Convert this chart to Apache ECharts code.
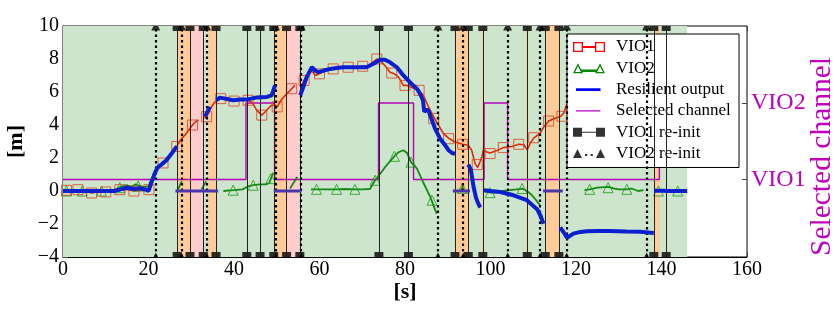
<!DOCTYPE html>
<html><head><meta charset="utf-8">
<script src="https://cdn.jsdelivr.net/npm/echarts@6/dist/echarts.min.js"></script>
<style>html,body{margin:0;padding:0;background:#fff}#c{width:837px;height:310px}</style>
</head><body><div id="c"></div>
<script>
// ---- axes ----
const xMin = 0, xMax = 160, xStep = 20;
const yMin = -4, yMax = 10, yStep = 2;
const channelNames = ['VIO1', 'VIO2'];
const channelLevels = [0.7, 5.33];

// ---- curves [t (s), value (m)]; null = gap ----
const vio1 = [[0,0.05],[1,0.04],[2,0],[3.5,0.08],[5,0],[6.7,-0.12],[8.5,-0.05],[10,-0.06],[11.5,0],[13.3,0.08],[15,0.1],[16.6,0],[18,0.05],[20.1,0.08],[21,0.7],[22,1.3],[23.4,1.7],[25,2.2],[26.6,2.7],[27.5,3.1],[28.9,3.5],[30.3,4.0],[31,4.2],[31.7,4.3],
 [32.3,null],[33.1,4.4],[33.6,4.5],[34.5,5.0],[35.5,5.4],[36.9,5.6],[38.5,5.5],[40,5.45],[41.5,5.5],[43.3,5.5],[44.3,5.35],[45.3,4.9],[46.5,4.6],[47.3,4.8],[48,5.0],[48.8,5.2],[49.6,5.2],[50.1,5.1],[51,5.5],[52,5.8],[53.5,6.2],[54.3,6.4],
 [55,null],[55.6,6.3],[56.4,6.7],[57,6.9],[58.2,7.3],[59,7.0],[60,7.1],[61.5,7.3],[63.2,7.4],[65,7.45],[66.7,7.5],[68.5,7.5],[70.1,7.56],[71.5,7.6],[73.4,8.0],[74.2,7.9],[75.3,7.6],[76.5,7.2],[77.5,7.1],[78.5,6.9],[79.6,6.4],[80.5,6.4],[81.6,6.27],[83.2,6.1],[84.3,5.8],[85.5,5.1],[86.7,4.5],[87.8,4.0],[89,3.48],[90.2,3.2],[91.7,2.97],[93.5,2.83],[94.8,2.77],[95.6,2.47],[96.4,1.66],[97,1.42],[98,2.06],[98.3,2.47],[99.2,2.36],[99.9,2.3],[101.5,2.45],[103,2.63],[105,2.7],[106.6,2.83],[107.8,2.8],[108.6,2.5],[109.3,2.9],[110.1,3.2],[111.6,3.5],[112.5,3.9],[113.6,4.24],[115,4.4],[116.3,4.5],[117.1,4.7],[117.9,5.3]];
const vio1Markers = [[0.8,0.04],[3.5,0.08],[6.7,-0.12],[10.0,-0.06],[13.3,0.08],[16.6,0.0],[20.1,0.08],[23.4,1.7],[26.6,2.7],[30.3,4.0],[33.6,4.5],[36.9,5.6],[40.0,5.45],[43.3,5.5],[46.5,4.6],[50.1,5.1],[53.5,6.2],[56.4,6.7],[60.0,7.1],[63.2,7.4],[66.7,7.5],[70.1,7.56],[73.4,8.0],[76.9,7.15],[80.0,6.4],[83.3,6.1],[86.7,4.4],[90.2,3.17],[93.5,2.83],[96.9,1.6],[99.9,2.27],[103.0,2.63],[106.6,2.83],[110.1,3.23],[113.6,4.24],[116.7,4.53]];

const vio2 = [[0,0],[2,0],[4,0.02],[6,0],[9,0],[11,0.05],[12.5,0.1],[13.5,0.25],[15,0.35],[16,0.25],[17,0.4],[18,0.3],[19,0.25],[20,0.3],[20.7,0.7],[21.7,1.3],
 [24,null],[26.9,0.1],[27.8,0.6],[30,null],[32.4,0.1],[33.5,0.6],[35,null],
 [37.5,0],[39.8,0.05],[42,0.1],[43.5,0.3],[44.5,0.35],[46,0.4],[47.5,0.4],[48.3,0.5],[48.9,0.95],[49.2,1.1],
 [51,null],[53.1,0.15],[54.8,0.85],[56,null],
 [58,0.1],[59.3,0.1],[62,0.1],[64,0.1],[66,0.12],[68.3,0.1],[70,0.1],[71.8,0.12],[73,0.65],[74.2,1.05],[75.5,1.5],[77.5,2.1],[78.5,2.35],[79.6,2.47],[80.5,2.3],[81.4,1.75],[82.8,1.35],[84.3,0.5],[85.9,-0.36],[87.4,-1.37],
 [90,null],[92.9,-0.05],[93.6,0.3],[96,null],
 [98.4,0],[99.9,-0.1],[101,-0.1],[103,0],[104.5,0.05],[106,0.1],[107.4,0.15],[108.5,0],[109.5,-0.2],[110.5,-0.5],[111.6,-0.87],
 [115,null],[122,0.05],[123.2,0.1],[125,0.2],[127.5,0.25],[129,0.15],[130,0.1],[131.9,0.1],[133,0.15],[134.5,0],[135.8,0.05],
 [137,null],[138.5,0],[139.3,0],[141,0.05],[143.8,0],[145.5,0]];
const vio2Markers = [[0.8,0],[4.5,0],[9.0,0],[13.3,0.2],[17.6,0.3],[39.8,0.05],[44.5,0.35],[48.6,0.75],[59.3,0.1],[64.0,0.1],[68.3,0.1],[73.0,0.65],[77.5,2.1],[81.4,1.75],[86.3,-0.56],[93.4,0.15],[99.9,-0.1],[107.4,0.15],[123.2,0.1],[127.5,0.2],[131.9,0.1],[139.3,0],[143.8,0]];

const resilient = [[0,0],[12,0],[13.5,0.1],[15,0.2],[16.5,0.12],[18,0.17],[19.5,0.08],[20,0],[20.8,0.6],[21.5,1.1],[22.2,1.45],[23,1.6],[24.2,1.86],[25.5,2.3],[26.6,2.7],
 [30,null],[33.2,4.5],[33.6,4.6],[34.4,5.1],[35,null],
 [35.9,5.5],[36.7,5.66],[38,5.6],[39.8,5.5],[41.5,5.55],[42.9,5.55],[44,5.6],[45.3,5.67],[47.7,5.7],[48.8,5.8],[49.6,6.4],
 [52,null],[55.5,5.8],[56.2,6.3],[57,6.9],[57.8,7.3],[58.2,7.5],[59,7.3],[59.7,7.2],[61,7.3],[62.5,7.4],[64,7.45],[65.6,7.5],[68,7.5],[71,7.5],[72.5,7.7],[74.2,7.96],[75.3,7.96],[76.5,7.8],[78.1,7.5],[79.3,7.1],[80.4,6.8],[81.5,6.5],[82.8,6.2],[83.5,5.9],[84.2,5.5],[84.5,4.8],[85.1,4.95],[85.6,4.8],[86.3,4.3],[87,3.8],[88.2,3.17],[89.4,2.77],[90.2,2.47],[91,2.3],[91.7,2.25],
 [93,null],[94.8,1.6],[95.4,1.3],[96,0.3],[96.6,-0.4],[97.2,-0.8],[97.6,-1.0],
 [98,null],[98.4,0.05],[100,0],[102.3,-0.06],[105.4,-0.26],[108.5,-0.56],[110.9,-1.1],[111.7,-1.5],[112.4,-1.98],
 [114,null],[116.3,-2.2],[117.1,-2.5],[117.9,-2.83],[118.7,-2.7],[119.4,-2.58],[121,-2.48],[122.6,-2.44],[125,-2.42],[128,-2.42],[131.8,-2.45],[135,-2.47],[138.2,-2.55],
 [138.25,null],[138.3,0.02],[140,0.02],[142,0],[144,0],[146,0]];
const resilientIdle = [[26.3,0],[36.3,0],[40,null],[49.3,0],[55.8,0],[60,null],[91.2,0],[95.2,0],[100,null],[112.3,0],[116.9,0]];

// selected channel: switch times and channel index
const selTimes = [0, 42.8, 49.5, 73.8, 82.0, 98.5, 104.0, 139.5, 146];
const selChannel = [0, 1, 0, 1, 0, 1, 0, 1, 1];

// events (s)
const vio1Reinit = [26.7, 29.7, 32.8, 35.8, 43.0, 46.1, 49.3, 52.3, 55.4, 73.9, 80.8, 91.7, 94.8, 98.2, 108.6, 112.8, 116.0, 138.2, 141.1];
const vio2Reinit = [21.7, 27.7, 33.6, 49.7, 55.7, 87.7, 93.6, 104.0, 111.6, 117.8, 136.5];
const validSpan = [0, 146];
const orangeBands = [[26.7,29.7],[34.0,35.8],[49.3,52.3],[91.7,94.8],[97.95,98.45],[108.35,108.85],[112.8,116.0],[138.2,139.6]];
const pinkBands = [[29.7,32.8],[52.3,55.3]];

// ---- styles ----
const FONT = 'Liberation Serif';
const MAG = '#bf00bf';
const fmtNum = v => (v < 0 ? '\u2212' + Math.abs(v) : String(v));
const corners = ' M0,0 L0.01,0 L0,0.01 Z M32,10 L31.99,10 L32,9.99 Z';
const ICON_VIO1 = 'path://M0,0 L10,0 L10,10 L0,10 Z M1.3,1.3 L1.3,8.7 L8.7,8.7 L8.7,1.3 Z M22,0 L32,0 L32,10 L22,10 Z M23.3,1.3 L23.3,8.7 L30.7,8.7 L30.7,1.3 Z M10,4.1 L22,4.1 L22,5.9 L10,5.9 Z';
const ICON_VIO2 = 'path://M0,10 L5,0 L10,10 Z M2.1,8.8 L7.9,8.8 L5,2.9 Z M22,10 L27,0 L32,10 Z M24.1,8.8 L29.9,8.8 L27,2.9 Z M8,6.3 L24,6.3 L24,8.7 L8,8.7 Z';
const ICON_RES = 'path://M3,3.6 L27.5,3.6 L27.5,6.4 L3,6.4 Z' + corners;
const ICON_SEL = 'path://M3,4.3 L27.5,4.3 L27.5,5.7 L3,5.7 Z' + corners;
const ICON_R1 = 'path://M0,0.5 L9,0.5 L9,9.5 L0,9.5 Z M23,0.5 L32,0.5 L32,9.5 L23,9.5 Z M9,4.5 L23,4.5 L23,5.5 L9,5.5 Z' + corners;
const ICON_R2 = 'path://M0,9.5 L4.5,0.5 L9,9.5 Z M23,9.5 L27.5,0.5 L32,9.5 Z M12,5.6 L14.2,5.6 L14.2,7.4 L12,7.4 Z M17.6,5.6 L19.8,5.6 L19.8,7.4 L17.6,7.4 Z' + corners;

const selData = selTimes.map((t, i) => [t, channelLevels[selChannel[i]]]);
const areaData = [[{xAxis: validSpan[0], itemStyle: {color: '#cce5cc'}}, {xAxis: validSpan[1]}]]
  .concat(orangeBands.map(b => [{xAxis: b[0], itemStyle: {color: '#ffcc99'}}, {xAxis: b[1]}]))
  .concat(pinkBands.map(b => [{xAxis: b[0], itemStyle: {color: '#ffcccc'}}, {xAxis: b[1]}]));

const r1Data = vio1Reinit.flatMap(t => [
  {value: [t, yMax], symbolOffset: [0, 2.5]},
  {value: [t, yMin], symbolOffset: [0, -2.5]}]);
const r2Data = vio2Reinit.flatMap(t => [
  {value: [t, yMax], symbol: 'path://M2.25,0 L6.75,0 L9,4.5 L0,4.5 Z', symbolSize: [9, 4.5], symbolOffset: [0, 2.25]},
  {value: [t, yMin], symbol: 'path://M2.25,0 L4.5,4.5 L0,4.5 Z', symbolSize: [4.5, 4.5], symbolOffset: [0, -2.25]}]);

const chart = echarts.init(document.getElementById('c'), null, {renderer: 'canvas'});
chart.setOption({
  animation: false,
  grid: {left: 63, right: 90, top: 26, bottom: 53, show: true, borderColor: '#000', borderWidth: 1,
         backgroundColor: 'transparent', outerBoundsMode: 'none', containLabel: false},
  xAxis: [{
    type: 'value', min: xMin, max: xMax, interval: xStep, position: 'bottom',
    axisLine: {show: true, onZero: false, lineStyle: {color: '#000'}},
    axisTick: {inside: true, length: 5, lineStyle: {color: '#444'}},
    axisLabel: {fontFamily: FONT, fontSize: 20, color: '#000', margin: 3, formatter: fmtNum},
    splitLine: {show: false},
    name: '[s]', nameLocation: 'middle', nameGap: 24, nameMoveOverlap: false,
    nameTextStyle: {fontFamily: FONT, fontSize: 22, fontWeight: 'bold', color: '#000'}
  }, {
    type: 'value', min: xMin, max: xMax, interval: xStep, position: 'top',
    axisLine: {show: false, onZero: false}, axisTick: {inside: true, length: 5, lineStyle: {color: '#444'}},
    axisLabel: {show: false}, splitLine: {show: false}
  }],
  yAxis: [{
    type: 'value', min: yMin, max: yMax, interval: yStep, position: 'left',
    axisLine: {show: true, onZero: false, lineStyle: {color: '#000'}},
    axisTick: {inside: true, length: 5, lineStyle: {color: '#444'}},
    axisLabel: {fontFamily: FONT, fontSize: 20, color: '#000', margin: 4, formatter: fmtNum},
    splitLine: {show: false},
    name: '[m]', nameLocation: 'middle', nameGap: 36,
    nameTextStyle: {fontFamily: FONT, fontSize: 22, fontWeight: 'bold', color: '#000'}
  }, {
    type: 'value', min: yMin, max: yMax, position: 'right',
    axisLine: {show: false, onZero: false},
    axisTick: {inside: true, length: 5, customValues: channelLevels, lineStyle: {color: '#444'}},
    axisLabel: {customValues: channelLevels, fontFamily: FONT, fontSize: 24, color: MAG, margin: 4,
      formatter: v => channelNames[channelLevels.indexOf(v)] || ''},
    splitLine: {show: false},
    name: 'Selected channel', nameLocation: 'middle', nameRotate: 90, nameGap: 60, nameMoveOverlap: false,
    nameTextStyle: {fontFamily: FONT, fontSize: 29.5, color: MAG, padding: [0, 30, 0, 0]}
  }],
  legend: {
    orient: 'vertical', left: 567, top: 34, padding: [3, 5, 4, 6], itemGap: 1.3,
    itemWidth: 32, itemHeight: 10, backgroundColor: '#fff', borderColor: '#000', borderWidth: 1,
    selectedMode: false,
    textStyle: {fontFamily: FONT, fontSize: 17, color: '#000', lineHeight: 20, width: 118, padding: [0, 0, 0, 6]},
    data: [
      {name: 'VIO1', icon: ICON_VIO1, itemStyle: {color: '#ff0000', borderWidth: 0}},
      {name: 'VIO2', icon: ICON_VIO2, itemStyle: {color: '#008800', borderWidth: 0}},
      {name: 'Resilient output', icon: ICON_RES, itemStyle: {color: '#0000ff', borderWidth: 0}},
      {name: 'Selected channel', icon: ICON_SEL, itemStyle: {color: MAG, borderWidth: 0}},
      {name: 'VIO1 re-init', icon: ICON_R1, itemStyle: {color: '#000', borderWidth: 0}},
      {name: 'VIO2 re-init', icon: ICON_R2, itemStyle: {color: '#000', borderWidth: 0}}
    ]
  },
  series: [
    {type: 'line', name: 'bands', data: [], z: 1, silent: true,
     markArea: {silent: true, label: {show: false}, data: areaData}},
    {type: 'scatter', name: 'VIO1 re-init', z: 2, clip: false, silent: true,
     symbol: 'rect', symbolSize: [9, 5], itemStyle: {color: '#000'}, data: r1Data,
     markLine: {silent: true, symbol: ['none', 'none'], label: {show: false},
       lineStyle: {color: '#222', width: 1, type: 'solid'}, data: vio1Reinit.map(t => ({xAxis: t}))}},
    {type: 'scatter', name: 'VIO2 re-init', z: 2, clip: false, silent: true,
     itemStyle: {color: '#000'}, data: r2Data,
     markLine: {silent: true, symbol: ['none', 'none'], label: {show: false},
       lineStyle: {color: '#000', width: 2.2, type: [2.5, 3]}, data: vio2Reinit.map(t => ({xAxis: t}))}},
    {type: 'line', name: 'Selected channel', z: 3, data: selData, step: 'end', showSymbol: false,
     lineStyle: {color: '#b800b8', width: 1.4}, itemStyle: {color: '#b800b8'}},
    {type: 'line', name: 'VIO2', z: 3, data: vio2, showSymbol: false, connectNulls: false,
     lineStyle: {color: '#138a13', width: 1.8}, itemStyle: {color: '#138a13'}},
    {type: 'scatter', name: 'VIO2', z: 4, data: vio2Markers, symbol: 'triangle', symbolSize: 10,
     itemStyle: {color: 'rgba(0,0,0,0)', borderColor: '#1a9a1a', borderWidth: 1}},
    {type: 'line', name: 'VIO1', z: 3, data: vio1, showSymbol: false, connectNulls: false,
     lineStyle: {color: '#e02a08', width: 1.6}, itemStyle: {color: '#e02a08'}},
    {type: 'scatter', name: 'VIO1', z: 4, data: vio1Markers, symbol: 'rect', symbolSize: 10,
     itemStyle: {color: 'rgba(0,0,0,0)', borderColor: '#e23c1c', borderWidth: 1}},
    {type: 'line', name: 'Resilient output', z: 5, data: resilientIdle, showSymbol: false, connectNulls: false,
     lineStyle: {color: '#4a36a8', width: 3}, itemStyle: {color: '#4a36a8'}},
    {type: 'line', name: 'Resilient output', z: 5, data: resilient, showSymbol: false, connectNulls: false,
     lineStyle: {color: '#0a20d0', width: 4}, itemStyle: {color: '#0a20d0'}}
  ]
});
</script></body></html>
